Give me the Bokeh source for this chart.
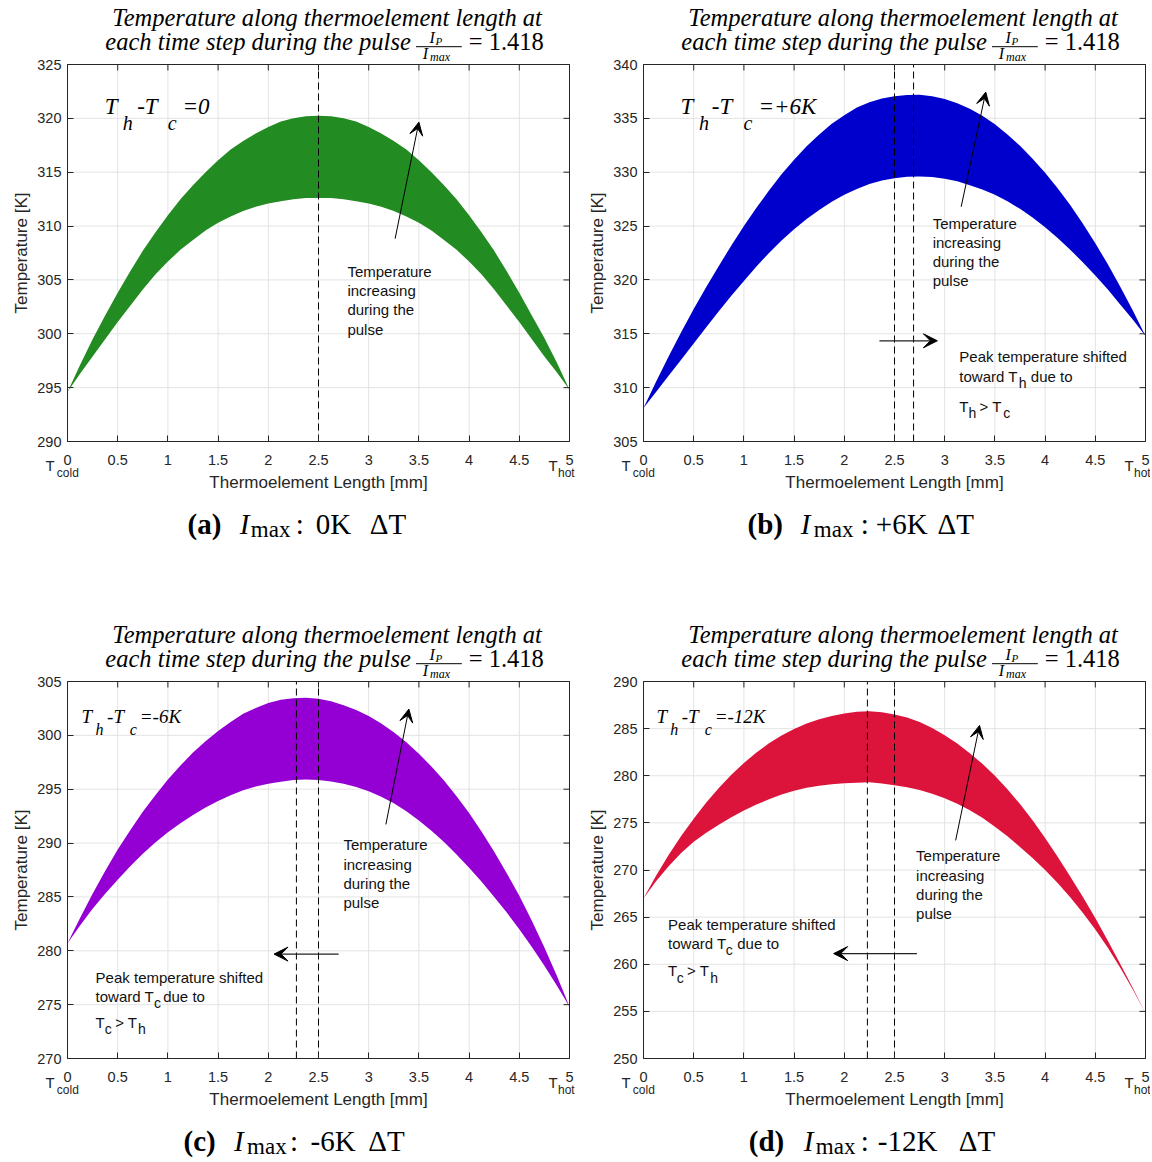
from bokeh.plotting import figure
from bokeh.models import Label, Arrow, VeeHead, FixedTicker, Range1d
from bokeh.layouts import row, column
from bokeh.embed import file_html
from bokeh.resources import INLINE

# ------------------------------------------------------------------ data
x_mm = [0.0, 0.125, 0.25, 0.375, 0.5, 0.625, 0.75, 0.875, 1.0, 1.125, 1.25, 1.375,
        1.5, 1.625, 1.75, 1.875, 2.0, 2.125, 2.25, 2.375, 2.5, 2.625, 2.75, 2.875,
        3.0, 3.125, 3.25, 3.375, 3.5, 3.625, 3.75, 3.875, 4.0, 4.125, 4.25, 4.375,
        4.5, 4.625, 4.75, 4.875, 5.0]
x_ticks = [0, 0.5, 1, 1.5, 2, 2.5, 3, 3.5, 4, 4.5, 5]
x_tick_labels = ["0", "0.5", "1", "1.5", "2", "2.5", "3", "3.5", "4", "4.5", "5"]

a_upper = [294.6, 297.1, 299.5, 301.7, 303.8, 305.8, 307.7, 309.4, 311.0, 312.5, 313.8, 315.0,
           316.1, 317.1, 317.9, 318.6, 319.2, 319.7, 320.0, 320.2, 320.25, 320.2, 320.0, 319.7,
           319.2, 318.6, 317.9, 317.1, 316.1, 315.0, 313.8, 312.5, 311.0, 309.4, 307.7, 305.8,
           303.8, 301.7, 299.6, 297.3, 294.8]
a_lower = [294.6, 296.3, 297.9, 299.5, 301.1, 302.6, 304.1, 305.5, 306.7, 307.8, 308.7, 309.6,
           310.3, 310.9, 311.4, 311.8, 312.1, 312.3, 312.5, 312.6, 312.6, 312.6, 312.5, 312.3,
           312.1, 311.8, 311.4, 310.9, 310.3, 309.6, 308.7, 307.8, 306.7, 305.5, 304.1, 302.6,
           301.1, 299.5, 297.9, 296.4, 294.8]
a_peaks = [2.5]
a_yticks = [290, 295, 300, 305, 310, 315, 320, 325]

b_upper = [308.1, 310.55, 312.9, 315.15, 317.3, 319.35, 321.3, 323.2, 325.0, 326.7, 328.3, 329.8,
           331.15, 332.4, 333.5, 334.5, 335.3, 336.0, 336.5, 336.85, 337.05, 337.18, 337.2, 337.06,
           336.8, 336.4, 335.9, 335.25, 334.45, 333.5, 332.45, 331.25, 329.95, 328.5, 326.95, 325.25,
           323.4, 321.45, 319.35, 317.15, 314.8]
b_lower = [308.1, 309.6, 311.1, 312.6, 314.1, 315.6, 317.1, 318.53, 319.9, 321.25, 322.5, 323.65,
           324.7, 325.65, 326.5, 327.25, 327.9, 328.45, 328.9, 329.24, 329.45, 329.58, 329.6, 329.55,
           329.4, 329.15, 328.8, 328.4, 327.9, 327.3, 326.6, 325.8, 324.9, 323.9, 322.8, 321.65,
           320.4, 319.1, 317.7, 316.3, 314.8]
b_peaks = [2.5, 2.69]
b_yticks = [305, 310, 315, 320, 325, 330, 335, 340]

c_upper = [280.7, 283.05, 285.3, 287.4, 289.4, 291.2, 292.9, 294.45, 295.9, 297.2, 298.4, 299.45,
           300.4, 301.25, 302.0, 302.55, 303.0, 303.3, 303.45, 303.48, 303.4, 303.16, 302.8, 302.36,
           301.8, 301.1, 300.3, 299.35, 298.3, 297.1, 295.8, 294.35, 292.8, 291.05, 289.2, 287.2,
           285.1, 282.8, 280.3, 277.65, 274.8]
c_lower = [280.7, 282.35, 283.9, 285.3, 286.6, 287.85, 289.0, 290.05, 291.0, 291.85, 292.6, 293.3,
           293.9, 294.45, 294.9, 295.26, 295.5, 295.7, 295.85, 295.9, 295.85, 295.72, 295.5, 295.2,
           294.8, 294.3, 293.7, 292.96, 292.1, 291.15, 290.1, 288.95, 287.7, 286.4, 285.0, 283.55,
           282.0, 280.35, 278.6, 276.75, 274.8]
c_peaks = [2.28, 2.5]
c_yticks = [270, 275, 280, 285, 290, 295, 300, 305]

d_upper = [267.0, 269.4, 271.6, 273.6, 275.45, 277.15, 278.7, 280.1, 281.35, 282.47, 283.45, 284.26,
           284.95, 285.54, 286.0, 286.35, 286.6, 286.78, 286.85, 286.74, 286.5, 286.17, 285.7, 285.06,
           284.3, 283.41, 282.4, 281.27, 280.0, 278.57, 277.0, 275.27, 273.4, 271.41, 269.3, 267.15,
           264.9, 262.5, 260.0, 257.45, 254.8]
d_lower = [267.0, 268.8, 270.4, 271.8, 273.0, 273.95, 274.8, 275.6, 276.3, 276.94, 277.5, 278.0,
           278.4, 278.72, 278.95, 279.1, 279.2, 279.27, 279.3, 279.18, 279.0, 278.78, 278.5, 278.1,
           277.6, 277.03, 276.35, 275.54, 274.6, 273.58, 272.45, 271.27, 270.0, 268.61, 267.1, 265.46,
           263.7, 261.74, 259.6, 257.29, 254.8]
d_peaks = [2.23, 2.5]
d_yticks = [250, 255, 260, 265, 270, 275, 280, 285, 290]

# ------------------------------------------------------------------ layout / style
FW, FH = 502, 377            # plot-box size in px
PXX = FW / 5.0               # px per mm
LEFT = 67                    # plot-box left offset inside each figure
SANS = "Liberation Sans"
SERIF = "Liberation Serif"
AXC = "#262626"
GRID = "#e3e3e3"


def add_label(p, x, y, text, size, font=SANS, style="normal", color="#111111",
              align="left"):
    fs = float(size.replace("px", ""))
    p.add_layout(Label(x=x, y=y, text=text, text_font=font, text_font_size=size,
                       text_font_style=style, text_color=color, text_align=align,
                       text_baseline="alphabetic", y_offset=round(0.4 * fs, 1)))


def make_panel(cfg):
    W, H, TOP = cfg["W"], cfg["H"], cfg["top"]
    yt = cfg["yticks"]
    ymin, ymax = yt[0], yt[-1]
    x0, x1 = x_ticks[0], x_ticks[-1]
    k = FH / (ymax - ymin)   # px per K

    def X(fx):
        return x0 + fx / PXX

    def Y(fy):
        return ymax - fy / k

    p = figure(width=W, height=H,
               x_range=Range1d(X(-LEFT), X(W - LEFT)),
               y_range=Range1d(Y(H - TOP), Y(-TOP)),
               output_backend="svg", toolbar_location=None, min_border=0)
    p.title.visible = False
    p.outline_line_color = None
    p.background_fill_color = "white"
    p.border_fill_color = "white"
    p.grid.visible = False

    xa, ya = p.xaxis[0], p.yaxis[0]
    xa.fixed_location = ymin
    xa.bounds = (x0, x1)
    ya.fixed_location = x0
    ya.bounds = (ymin, ymax)
    xa.ticker = FixedTicker(ticks=x_ticks)
    xa.major_label_overrides = {t: l for t, l in zip(x_ticks, x_tick_labels)}
    ya.ticker = FixedTicker(ticks=yt)
    for ax in (xa, ya):
        ax.major_tick_in = 6
        ax.major_tick_out = 0
        ax.minor_tick_line_color = None
        ax.axis_line_color = AXC
        ax.major_tick_line_color = AXC
        ax.major_label_text_font = SANS
        ax.major_label_text_font_size = "14.5px"
        ax.major_label_text_color = AXC
        ax.axis_label_text_font = SANS
        ax.axis_label_text_font_size = "17px"
        ax.axis_label_text_font_style = "normal"
        ax.axis_label_text_color = AXC
    xa.axis_label = "Thermoelement Length [mm]"
    ya.axis_label = "Temperature [K]"
    xa.major_label_standoff = 13
    xa.axis_label_standoff = 5
    ya.major_label_standoff = 6
    ya.axis_label_standoff = 3

    # grid lines at the tick positions
    nx, ny = len(x_ticks), len(yt)
    p.segment(x0=x_ticks, y0=[ymin] * nx, x1=x_ticks, y1=[ymax] * nx, line_color=GRID, line_width=1)
    p.segment(x0=[x0] * ny, y0=yt, x1=[x1] * ny, y1=yt, line_color=GRID, line_width=1)

    # band of temperature profiles
    p.varea(x=x_mm, y1=cfg["lower"], y2=cfg["upper"], fill_color=cfg["color"])

    # peak position markers
    npk = len(cfg["peaks"])
    p.segment(x0=cfg["peaks"], y0=[ymin] * npk, x1=cfg["peaks"], y1=[ymax] * npk,
              line_color="black", line_dash="7 4", line_width=1)

    # box (top/right) with inward ticks
    p.segment(x0=[x0, x1], y0=[ymax, ymin], x1=[x1, x1], y1=[ymax, ymax], line_color=AXC, line_width=1)
    p.segment(x0=x_ticks, y0=[ymax] * nx, x1=x_ticks, y1=[Y(6)] * nx, line_color=AXC, line_width=1)
    p.segment(x0=[x1] * ny, y0=yt, x1=[X(FW - 6)] * ny, y1=yt, line_color=AXC, line_width=1)

    # T_cold / T_hot tick decorations
    add_label(p, X(-21.9), Y(FH + 29.8), "T", "15px", color=AXC)
    add_label(p, X(-10.7), Y(FH + 35.8), "cold", "12px", color=AXC)
    add_label(p, X(481.0), Y(FH + 29.8), "T", "15px", color=AXC)
    add_label(p, X(490.5), Y(FH + 35.8), "hot", "12px", color=AXC)

    # title (two lines, with fraction)
    add_label(p, X(259.6), Y(-37.1), "Temperature along thermoelement length at", "24.5px",
              font=SERIF, style="italic", color="black", align="center")
    add_label(p, X(343.3), Y(-12.8), "each time step during the pulse", "24.5px",
              font=SERIF, style="italic", color="black", align="right")
    add_label(p, X(362.0), Y(-20.8), "I", "16px", font=SERIF, style="italic", color="black")
    add_label(p, X(368.0), Y(-19.0), "P", "11px", font=SERIF, style="italic", color="black")
    p.add_layout(Arrow(x_start=X(348.5), y_start=Y(-17.8), x_end=X(394.3), y_end=Y(-17.8),
                       end=None, line_color="black", line_width=1))
    add_label(p, X(355.3), Y(-4.8), "I", "16px", font=SERIF, style="italic", color="black")
    add_label(p, X(362.5), Y(-3.0), "max", "12px", font=SERIF, style="italic", color="black")
    add_label(p, X(401.3), Y(-12.8), "= 1.418", "24.5px", font=SERIF, color="black")

    # caption below
    cb = cfg["cap_below"]
    for text, fx, style, size, drop in cfg["cap"]:
        add_label(p, X(fx), Y(FH + cb + drop), text, size, font=SERIF, style=style, color="black")

    # T_h - T_c annotation
    ms, ss = cfg["tsize"]
    mb, sb = cfg["tbase"]
    for text, fx, sub in cfg["tdiff"]:
        add_label(p, X(fx), Y(sb if sub else mb), text, ss if sub else ms,
                  font=SERIF, style="italic", color="black")

    # temperature increasing arrow & text
    ax0, ay0, ax1, ay1 = cfg["up"]
    p.add_layout(Arrow(x_start=ax0, y_start=ay0, x_end=ax1, y_end=ay1, line_color="black",
                       line_width=1, end=VeeHead(size=13, fill_color="black",
                                                 line_color="black")))
    tx, tys = cfg["temp"]
    for txt, ty in zip(["Temperature", "increasing", "during the", "pulse"], tys):
        add_label(p, tx, ty, txt, "15px")

    # peak shift arrow & text
    if cfg.get("shift"):
        sy, sx0, sx1 = cfg["shift"]["arrow"]
        p.add_layout(Arrow(x_start=sx0, y_start=sy, x_end=sx1, y_end=sy, line_color="#222222",
                           line_width=1.2, end=VeeHead(size=14, fill_color="black",
                                                       line_color="black")))
        for txt, lx, ly, size in cfg["shift"]["texts"]:
            add_label(p, lx, ly, txt, size)
    return p


def cap_tokens(letter, fxs, dT):
    return [("(" + letter + ")", fxs[0], "bold", "29px", 0),
            ("I", fxs[1], "italic", "29px", 0),
            ("max", fxs[2], "normal", "23px", 3),
            (":", fxs[3], "normal", "29px", 0),
            (dT, fxs[4], "normal", "29px", 0),
            ("\u0394T", fxs[5], "normal", "29px", 0)]


cfg_a = dict(upper=a_upper, lower=a_lower, peaks=a_peaks, yticks=a_yticks, color="#228B22",
             W=576, H=620, top=64, cap_below=94,
             cap=cap_tokens("a", [120, 172.3, 183.3, 228.3, 248.3, 302.3], "0K"),
             tdiff=[("T", 37.3, 0), ("h", 55.3, 1), ("-T", 69.7, 0), ("c", 100.3, 1), ("=0", 114.9, 0)],
             tsize=("23px", "20px"), tbase=(51.2, 66.2),
             up=(3.263, 308.83, 3.50, 319.65),
             temp=(2.788, [305.22, 303.42, 301.66, 299.87]))

cfg_b = dict(upper=b_upper, lower=b_lower, peaks=b_peaks, yticks=b_yticks, color="#0000CD",
             W=574, H=620, top=64, cap_below=94,
             cap=cap_tokens("b", [104, 157.3, 170.3, 217.3, 232.3, 294], "+6K"),
             tdiff=[("T", 37.1, 0), ("h", 55.6, 1), ("-T", 68.3, 0), ("c", 100.1, 1), ("=+6K", 114.9, 0)],
             tsize=("23px", "20px"), tbase=(51.2, 66.2),
             up=(3.164, 326.79, 3.409, 337.44),
             temp=(2.88, [324.72, 322.93, 321.17, 319.38]),
             shift=dict(arrow=(314.35, 2.35, 2.927),
                        texts=[("Peak temperature shifted", 3.146, 312.35, "15px"),
                               ("toward T", 3.146, 310.49, "15px"),
                               ("h", 3.737, 309.88, "14px"),
                               ("due to", 3.858, 310.49, "15px"),
                               ("T", 3.146, 307.65, "15px"),
                               ("h", 3.237, 307.1, "14px"),
                               ("> T", 3.347, 307.65, "15px"),
                               ("c", 3.584, 307.1, "14px")]))

cfg_c = dict(upper=c_upper, lower=c_lower, peaks=c_peaks, yticks=c_yticks, color="#9400D3",
             W=576, H=540, top=61, cap_below=94,
             cap=cap_tokens("c", [116, 166.5, 179.6, 222.5, 243, 300.8], "-6K"),
             tdiff=[("T", 14.1, 0), ("h", 28.0, 1), ("-T", 39.6, 0), ("c", 62.2, 1), ("=-6K", 72.3, 0)],
             tsize=("19px", "16px"), tbase=(42.3, 54.0),
             up=(3.171, 291.73, 3.40, 302.44),
             temp=(2.748, [289.32, 287.47, 285.71, 283.92]),
             shift=dict(arrow=(279.69, 2.70, 2.057),
                        texts=[("Peak temperature shifted", 0.28, 276.98, "15px"),
                               ("toward T", 0.28, 275.22, "15px"),
                               ("c", 0.861, 274.66, "14px"),
                               ("due to", 0.953, 275.22, "15px"),
                               ("T", 0.28, 272.81, "15px"),
                               ("c", 0.372, 272.25, "14px"),
                               ("> T", 0.475, 272.81, "15px"),
                               ("h", 0.703, 272.25, "14px")]))

cfg_d = dict(upper=d_upper, lower=d_lower, peaks=d_peaks, yticks=d_yticks, color="#DC143C",
             W=574, H=540, top=61, cap_below=94,
             cap=cap_tokens("d", [105.3, 160.3, 172.3, 217.3, 234.3, 315.3], "-12K"),
             tdiff=[("T", 13.0, 0), ("h", 26.7, 1), ("-T", 38.2, 0), ("c", 61.2, 1), ("=-12K", 71.2, 0)],
             tsize=("19px", "16px"), tbase=(42.3, 54.0),
             up=(3.109, 273.14, 3.347, 285.34),
             temp=(2.715, [270.92, 268.8, 266.78, 264.73]),
             shift=dict(arrow=(261.13, 2.723, 1.894),
                        texts=[("Peak temperature shifted", 0.245, 263.6, "15px"),
                               ("toward T", 0.245, 261.55, "15px"),
                               ("c", 0.818, 260.9, "14px"),
                               ("due to", 0.934, 261.55, "15px"),
                               ("T", 0.245, 258.66, "15px"),
                               ("c", 0.332, 258.0, "14px"),
                               ("> T", 0.434, 258.66, "15px"),
                               ("h", 0.664, 258.0, "14px")]))

pa = make_panel(cfg_a)
pb = make_panel(cfg_b)
pc = make_panel(cfg_c)
pd = make_panel(cfg_d)

layout = column(row(pa, pb), row(pc, pd))

open("out.html", "w").write(file_html(layout, INLINE))
